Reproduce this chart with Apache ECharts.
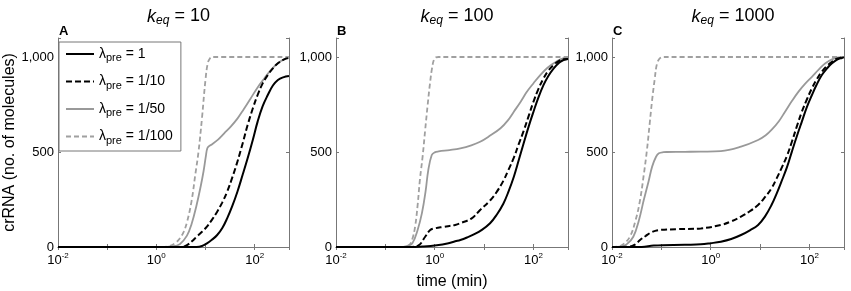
<!DOCTYPE html>
<html>
<head>
<meta charset="utf-8">
<script src="https://cdn.jsdelivr.net/npm/echarts@6/dist/echarts.min.js"></script>
<style>
  html, body { margin: 0; padding: 0; background: #fff; }
  #chart { width: 851px; height: 291px; }
</style>
</head>
<body>
<div id="chart"></div>
<script>
// panel titles / letters
var panelKeq = ['10', '100', '1000'];
var panelLetters = ['A', 'B', 'C'];
var lambdaNames = ['1', '1/10', '1/50', '1/100'];
var xLabelExps = [-2, 0, 2];
var yTickLabels = [0, 500, 1000];

// [time (min), crRNA]
// panel A, keq = 10
var a_lam1 = [[0.01, 0], [6.6, 0], [8.5, 5], [10.7, 19], [13.5, 38], [17.3, 63], [22, 100], [27.6, 151], [35, 215], [44.6, 291], [57, 380], [72, 467], [92, 565], [115, 660], [145, 740], [185, 800], [235, 850], [297, 879], [380, 893], [500, 900]];
var a_lam10 = [[0.01, 0], [3.2, 0], [4.2, 10], [5.3, 30], [6.6, 54], [8.5, 80], [10.7, 107], [13.5, 143], [17.3, 186], [22, 235], [27.6, 291], [35, 365], [44.6, 449], [57, 545], [72, 642], [92, 730], [115, 800], [145, 860], [185, 905], [235, 940], [297, 967], [400, 988], [500, 995]];
var a_lam50 = [[0.01, 0], [1.3, 0], [2, 3], [3, 15], [4.2, 60], [5.2, 120], [6.6, 221], [8, 320], [9.1, 396], [10.2, 480], [10.9, 520], [12, 532], [13.5, 540], [18, 565], [24, 598], [33, 635], [45, 677], [60, 725], [83, 782], [115, 840], [158, 888], [220, 935], [297, 967], [400, 988], [500, 995]];
var a_lam100 = [[0.01, 0], [1.2, 0], [1.8, 5], [2.4, 20], [3, 45], [3.6, 80], [4.2, 130], [5.2, 240], [6.2, 380], [7.2, 500], [8.5, 680], [10, 880], [11.2, 970], [12.5, 995], [13.5, 1000], [500, 1000]];
// panel B, keq = 100
var b_lam1 = [[0.01, 0], [0.3, 0], [0.6, 3], [1.1, 9], [1.8, 18], [2.6, 30], [3.3, 37], [4.5, 50], [6.2, 66], [9, 90], [13.2, 125], [18, 170], [24.5, 228], [31, 290], [40, 370], [50, 455], [63, 545], [80, 635], [100, 712], [125, 785], [160, 853], [200, 900], [257, 940], [330, 970], [406, 984], [500, 990]];
var b_lam10 = [[0.01, 0], [0.3, 0], [0.47, 9], [0.64, 54], [0.81, 89], [1, 98], [1.5, 106], [2.6, 116], [3.5, 128], [5.6, 151], [8.3, 195], [13.2, 245], [18, 290], [24.5, 348], [31, 405], [40, 470], [50, 540], [63, 610], [80, 690], [100, 765], [125, 830], [160, 888], [200, 928], [257, 958], [330, 980], [406, 988], [500, 990]];
var b_lam50 = [[0.01, 0], [0.2, 0], [0.27, 5], [0.35, 19], [0.45, 90], [0.55, 178], [0.65, 290], [0.74, 405], [0.87, 484], [1, 498], [1.2, 503], [2, 510], [3.3, 519], [5.5, 535], [8.3, 554], [13, 585], [21.5, 625], [30, 665], [40, 712], [55, 765], [74, 818], [100, 862], [137, 905], [190, 942], [257, 967], [350, 988], [500, 998]];
var b_lam100 = [[0.01, 0], [0.22, 0], [0.3, 9], [0.35, 40], [0.4, 107], [0.45, 220], [0.5, 353], [0.57, 480], [0.64, 616], [0.72, 750], [0.8, 860], [0.88, 940], [0.96, 985], [1.05, 998], [1.2, 1000], [500, 1000]];
// panel C, keq = 1000
var c_lam1 = [[0.01, 0], [0.04, 0], [0.07, 8], [0.3, 12], [0.63, 14], [1, 20], [1.6, 28], [2.6, 42], [4.1, 63], [6.2, 88], [9.1, 116], [12.5, 160], [17, 221], [21.5, 280], [27, 344], [35, 420], [44, 502], [55, 580], [70, 660], [88, 735], [112, 800], [140, 855], [178, 905], [230, 942], [286, 967], [370, 987], [455, 995], [500, 998]];
var c_lam10 = [[0.01, 0], [0.023, 2], [0.03, 15], [0.037, 37], [0.048, 58], [0.06, 75], [0.075, 85], [0.096, 90], [0.21, 94], [0.63, 98], [1.6, 116], [2.6, 135], [4.1, 160], [6.2, 188], [9.1, 221], [12.5, 262], [17, 309], [21.5, 360], [27, 414], [35, 480], [44, 554], [55, 632], [70, 712], [88, 775], [112, 835], [140, 882], [178, 923], [230, 955], [286, 975], [370, 992], [500, 998]];
var c_lam50 = [[0.01, 0], [0.015, 2], [0.02, 15], [0.027, 54], [0.035, 140], [0.044, 247], [0.055, 345], [0.065, 423], [0.078, 475], [0.089, 493], [0.11, 499], [0.13, 500], [0.3, 501], [0.63, 502], [1.6, 505], [4.1, 528], [9.1, 563], [13, 588], [17, 616], [24, 662], [32, 712], [44, 768], [60, 818], [82, 860], [112, 896], [155, 935], [210, 967], [300, 990], [390, 998], [500, 1000]];
var c_lam100 = [[0.01, 0], [0.013, 2], [0.017, 15], [0.023, 54], [0.03, 140], [0.037, 247], [0.044, 380], [0.051, 510], [0.058, 650], [0.065, 774], [0.073, 880], [0.082, 967], [0.095, 995], [0.11, 1000], [500, 1000]];

var panelData = [
    [a_lam1, a_lam10, a_lam50, a_lam100],
    [b_lam1, b_lam10, b_lam50, b_lam100],
    [c_lam1, c_lam10, c_lam50, c_lam100]
];

var lineStyles = [
    {color: '#000', width: 2, type: 'solid'},
    {color: '#000', width: 2, type: [6, 3]},
    {color: '#999', width: 1.8, type: 'solid'},
    {color: '#a0a0a0', width: 1.8, type: [5, 3]}
];

var grids = [
    {left: 58, width: 231, top: 38, height: 209},
    {left: 336, width: 232, top: 38, height: 209},
    {left: 612, width: 232, top: 38, height: 209}
];

var supRich = {
    base: {fontSize: 13, color: '#000', fontFamily: 'Liberation Sans'},
    sup: {fontSize: 8, color: '#000', verticalAlign: 'bottom', padding: [0, 0, 8, 0], fontFamily: 'Liberation Sans'}
};

function xLabel(v) {
    var e = Math.round(Math.log(v) / Math.LN10);
    if (Math.abs(Math.pow(10, e) - v) > v * 1e-6) return '';
    if (xLabelExps.indexOf(e) < 0) return '';
    return '{base|10}{sup|' + e + '}';
}

function yLabel(v) {
    if (yTickLabels.indexOf(v) < 0) return '';
    return v >= 1000 ? v.toLocaleString('en-US') : String(v);
}

var xAxes = [], yAxes = [], series = [], titles = [];
grids.forEach(function (g, i) {
    xAxes.push({
        type: 'log', logBase: 10, gridIndex: i, min: 0.01, max: 500,
        name: i == 1 ? 'time (min)' : '',
        nameLocation: 'middle', nameGap: 27,
        nameTextStyle: {fontSize: 16, color: '#000', fontFamily: 'Liberation Sans'},
        axisLine: {lineStyle: {color: '#777'}},
        axisTick: {inside: true, length: 3, lineStyle: {color: '#777'}},
        minorTick: {show: false},
        splitLine: {show: false},
        axisLabel: {formatter: xLabel, rich: supRich, margin: 5, showMaxLabel: false}
    });
    xAxes.push({
        type: 'log', logBase: 10, gridIndex: i, min: 0.01, max: 500, position: 'top',
        axisLine: {lineStyle: {color: '#777'}},
        axisTick: {inside: true, length: 3, lineStyle: {color: '#777'}},
        axisLabel: {show: false}, splitLine: {show: false}
    });
    yAxes.push({
        type: 'value', gridIndex: i, min: 0, max: 1100, interval: 500,
        name: i == 0 ? 'crRNA (no. of molecules)' : '',
        nameLocation: 'middle', nameGap: 38,
        nameTextStyle: {fontSize: 16, color: '#000', fontFamily: 'Liberation Sans'},
        axisLine: {show: true, lineStyle: {color: '#777'}},
        axisTick: {inside: true, length: 3, lineStyle: {color: '#777'}},
        splitLine: {show: false},
        axisLabel: {formatter: yLabel, color: '#000', fontSize: 13, margin: 4, fontFamily: 'Liberation Sans'}
    });
    yAxes.push({
        type: 'value', gridIndex: i, min: 0, max: 1100, interval: 500, position: 'right',
        axisLine: {show: true, lineStyle: {color: '#777'}},
        axisTick: {inside: true, length: 3, lineStyle: {color: '#777'}},
        axisLabel: {show: false}, splitLine: {show: false}
    });

    panelData[i].forEach(function (d, j) {
        series.push({
            name: '{l|λ}{sub|pre}{l| = ' + lambdaNames[j] + '}',
            type: 'line',
            xAxisIndex: i * 2,
            yAxisIndex: i * 2,
            data: d,
            symbol: 'none',
            smooth: 0.4,
            lineStyle: lineStyles[j],
            itemStyle: {color: lineStyles[j].color},
            z: 10 - j
        });
    });

    titles.push({
        text: '{k|k}{sub|eq}{t| = ' + panelKeq[i] + '}',
        left: g.left + g.width / 2,
        textAlign: 'center',
        top: 1,
        textStyle: {
            fontWeight: 'normal',
            rich: {
                k: {fontSize: 18, fontStyle: 'italic', fontWeight: 'normal', color: '#000', fontFamily: 'Liberation Sans'},
                sub: {fontSize: 12, fontStyle: 'italic', fontWeight: 'normal', color: '#000', verticalAlign: 'bottom', padding: [9, 0, 0, 0], fontFamily: 'Liberation Sans'},
                t: {fontSize: 18, fontWeight: 'normal', color: '#000', fontFamily: 'Liberation Sans'}
            }
        }
    });
    titles.push({
        text: panelLetters[i],
        left: g.left - 4,
        top: 20,
        textStyle: {fontSize: 13, fontWeight: 'bold', color: '#000', fontFamily: 'Liberation Sans'}
    });
});

var myChart = echarts.init(document.getElementById('chart'));
var option = {
    animation: false,
    title: titles,
    grid: grids.map(function (g) {
        return {left: g.left, width: g.width, top: g.top, height: g.height, containLabel: false, outerBoundsMode: 'none'};
    }),
    legend: {
        orient: 'vertical',
        left: 59,
        top: 42,
        padding: [5, 8, 5, 6],
        itemWidth: 28,
        itemHeight: 14,
        itemGap: 11,
        backgroundColor: '#fff',
        borderColor: '#777',
        borderWidth: 1,
        itemStyle: {opacity: 0},
        textStyle: {
            color: '#000',
            rich: {
                l: {fontSize: 14, color: '#000', fontFamily: 'Liberation Sans'},
                sub: {fontSize: 11, color: '#000', verticalAlign: 'bottom', padding: [8, 0, 0, 0], fontFamily: 'Liberation Sans'}
            }
        },
        data: series.slice(0, 4).map(function (s) { return s.name; })
    },
    xAxis: xAxes,
    yAxis: yAxes,
    series: series
};
myChart.setOption(option);
</script>
</body>
</html>
